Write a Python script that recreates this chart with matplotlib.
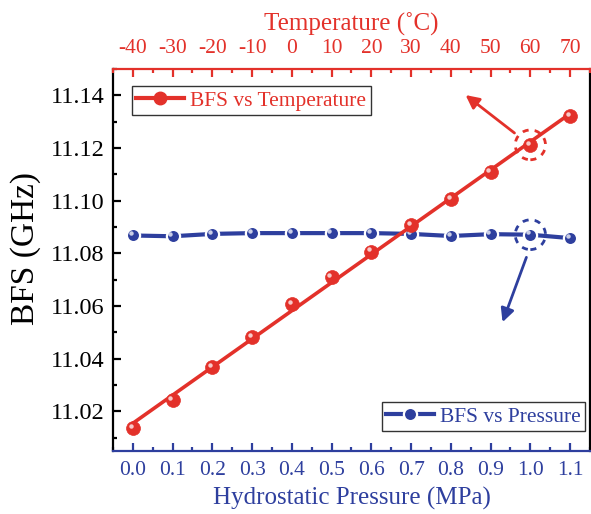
import numpy as np
import matplotlib
matplotlib.use("Agg")
import matplotlib.pyplot as plt
import matplotlib.transforms as mtransforms
from matplotlib.patches import Ellipse
from matplotlib.ticker import MultipleLocator

# --- data -------------------------------------------------------------
pressure = [0.0, 0.1, 0.2, 0.3, 0.4, 0.5, 0.6, 0.7, 0.8, 0.9, 1.0, 1.1]          # MPa
bfs_pressure = [11.0868, 11.0865, 11.0874, 11.0877, 11.0877, 11.0877,
                11.0877, 11.0874, 11.0866, 11.0873, 11.0871, 11.0858]           # GHz
temperature = [-40, -30, -20, -10, 0, 10, 20, 30, 40, 50, 60, 70]               # degC
bfs_temperature = [11.0137, 11.0244, 11.0369, 11.0482, 11.0607, 11.0709,
                   11.0807, 11.0908, 11.1007, 11.1110, 11.1212, 11.1322]        # GHz

RED = "#E3312A"
BLUE = "#2E3F9E"

plt.rcParams["font.family"] = ["Liberation Serif", "DejaVu Serif"]
plt.rcParams["axes.unicode_minus"] = False

fig = plt.figure(figsize=(5.91, 5.14), dpi=100)
ax = fig.add_axes([0.1912, 0.1226, 0.9983 - 0.1912, 0.8658 - 0.1226])
ax2 = ax.twiny()


def add_shine(axis, xs, ys):
    """Small glossy spot on each marker, nudged to the upper left."""
    tr = mtransforms.offset_copy(axis.transData, fig=fig, x=-1.6, y=1.6,
                                 units="points")
    axis.plot(xs, ys, ls="none", marker="o", ms=3.2, mfc="white", mec="none",
              alpha=0.75, transform=tr, zorder=5)


# --- pressure series (bottom axis) --------------------------------------
ax.plot(pressure, bfs_pressure, color=BLUE, lw=3.0, marker="o", ms=9.5,
        mfc=BLUE, mec="white", mew=1.6, label="BFS vs Pressure", zorder=3)
add_shine(ax, pressure, bfs_pressure)
ax.set_xlim(-0.05, 1.15)
ax.set_ylim(11.005, 11.15)

# --- temperature series (top axis) with linear fit -----------------------
ax2.set_xlim(-45, 75)
coef = np.polyfit(temperature, bfs_temperature, 1)
t_fit = np.array([temperature[0], temperature[-1]])
ax2.plot(t_fit, np.polyval(coef, t_fit), color=RED, lw=2.6, zorder=2)
ax2.plot(temperature, bfs_temperature, ls="none", marker="o", ms=10,
         mfc=RED, mec=RED, mew=0.5, zorder=3)
add_shine(ax2, temperature, bfs_temperature)
# legend handle for the temperature series
temp_handle, = ax2.plot([], [], color=RED, lw=3, marker="o", ms=9, mfc=RED,
                        mec=RED, label="BFS vs Temperature")

# --- spines -----------------------------------------------------------
ax.spines["top"].set_visible(False)
ax.spines["bottom"].set_color(BLUE)
for s in ("left", "right"):
    ax.spines[s].set_color("black")
for s in ax.spines.values():
    s.set_linewidth(1.6)
for s in ("bottom", "left", "right"):
    ax2.spines[s].set_visible(False)
ax2.spines["top"].set_color(RED)
ax2.spines["top"].set_linewidth(1.6)

# --- ticks ------------------------------------------------------------
ax.xaxis.set_major_locator(MultipleLocator(0.1))
ax.xaxis.set_minor_locator(MultipleLocator(0.05))
ax.yaxis.set_major_locator(MultipleLocator(0.02))
ax.yaxis.set_minor_locator(MultipleLocator(0.01))
ax.xaxis.set_major_formatter(plt.FormatStrFormatter("%.1f"))
ax.yaxis.set_major_formatter(plt.FormatStrFormatter("%.2f"))
ax.tick_params(axis="x", which="both", direction="in", colors=BLUE,
               labelsize=15.5, width=1.6, pad=7)
ax.tick_params(axis="x", which="major", length=6)
ax.tick_params(axis="x", which="minor", length=3)
ax.tick_params(axis="y", which="both", direction="in", colors="black",
               labelsize=17.5, width=1.6, pad=6, right=False)
ax.tick_params(axis="y", which="major", length=6)
ax.tick_params(axis="y", which="minor", length=3)

ax2.xaxis.set_major_locator(MultipleLocator(10))
ax2.xaxis.set_minor_locator(MultipleLocator(5))
ax2.tick_params(axis="x", which="both", direction="in", colors=RED,
                labelsize=15.5, width=1.6, pad=8)
ax2.tick_params(axis="x", which="major", length=6)
ax2.tick_params(axis="x", which="minor", length=3)

# --- labels -----------------------------------------------------------
ax.set_xlabel("Hydrostatic Pressure (MPa)", color=BLUE, fontsize=18, labelpad=5)
ax.set_ylabel("BFS (GHz)", color="black", fontsize=24, labelpad=7)
ax.yaxis.label.set_y(0.53)
ax2.set_xlabel("Temperature (˚C)", color=RED, fontsize=18, labelpad=6)

# --- legends ----------------------------------------------------------
leg1 = ax2.legend(handles=[temp_handle], loc="upper left",
                  bbox_to_anchor=(0.04, 0.955), fontsize=15.5,
                  frameon=True, fancybox=False, edgecolor="black",
                  handlelength=2.2, handletextpad=0.3, borderpad=0.2,
                  borderaxespad=0.0, labelcolor=RED)
leg1.get_frame().set_linewidth(1.0)
leg2 = ax.legend(loc="lower right", bbox_to_anchor=(0.99, 0.052), fontsize=15.5,
                 frameon=True, fancybox=False, edgecolor="black",
                 handlelength=2.2, handletextpad=0.3, borderpad=0.2,
                 borderaxespad=0.0, labelcolor=BLUE)
leg2.get_frame().set_linewidth(1.0)

# --- highlighted points and arrows -------------------------------------
ax2.add_patch(Ellipse((60, bfs_temperature[10]), 7.6, 0.0113, fill=False,
                      ec=RED, lw=2.0, ls=(0, (2.2, 2.2)), zorder=4))
ax.add_patch(Ellipse((pressure[10], bfs_pressure[10]), 0.076, 0.0113,
                     fill=False, ec=BLUE, lw=2.0, ls=(0, (2.2, 2.2)), zorder=4))
ax2.annotate("", xy=(43.7, 11.1401), xytext=(56.0, 11.1257),
             arrowprops=dict(arrowstyle="-|>", color=RED, lw=2.0,
                             mutation_scale=20, shrinkA=0, shrinkB=0))
ax.annotate("", xy=(0.930, 11.0539), xytext=(0.990, 11.0785),
            arrowprops=dict(arrowstyle="-|>", color=BLUE, lw=2.0,
                            mutation_scale=20, shrinkA=0, shrinkB=0))

fig.savefig("out.png", dpi=100)
